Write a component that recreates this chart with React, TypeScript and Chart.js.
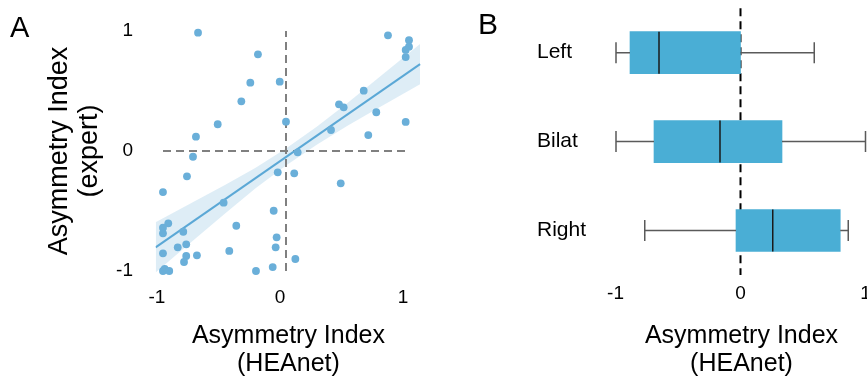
import React, { useEffect, useRef } from 'react';
import { Chart, registerables } from 'chart.js';
Chart.register(...registerables);

const FONT = '"Liberation Sans", Arial, Helvetica, sans-serif';

// ---------- Panel A data ----------
const scatterX = [
  -0.715, -0.228, -0.29, -0.051, -0.363, -0.555, 0.0, -0.732, 0.829, 1.0,
  1.0, 0.973, 0.973, 0.632, 0.431, 0.469, 0.734, 0.366, 0.973, 0.669,
  -0.756, -0.805, -1.0, -0.067, -0.507, -0.1, -0.957, -1.0, -1.0, -0.835,
  -0.404, -0.076, -0.084, -0.88, -0.811, -1.0, -0.461, -0.811, -0.724, -0.829,
  -0.986, -1.0, -0.949, -0.244, -0.108, 0.095, 0.067, 0.445, 0.076,
];
const scatterY = [
  0.986, 0.806, 0.569, 0.578, 0.414, 0.223, 0.244, 0.119, 0.964, 0.923,
  0.869, 0.842, 0.783, 0.503, 0.389, 0.364, 0.323, 0.175, 0.242, 0.133,
  -0.048, -0.211, -0.342, -0.178, -0.431, -0.498, -0.603, -0.639, -0.686, -0.673,
  -0.623, -0.719, -0.803, -0.803, -0.778, -0.853, -0.833, -0.875, -0.869, -0.925,
  -0.983, -1.0, -1.0, -1.0, -0.967, -0.011, -0.186, -0.269, -0.9,
];
const fitX = [-1.06, 1.09];
const fitY = [-0.803, 0.724];
const bandX = [-1.06, -0.75, -0.5, -0.25, 0, 0.25, 0.5, 0.75, 1.09];
const bandUpper = [-0.593, -0.4225, -0.285, -0.1425, 0.02, 0.2025, 0.4, 0.6075, 0.891];
const bandLower = [-1.013, -0.7425, -0.525, -0.3125, -0.12, 0.0525, 0.21, 0.3575, 0.557];
const axisTicks = [-1, 0, 1];

// ---------- Panel B data ----------
const groups = ['Left', 'Bilat', 'Right'];
const whiskerLow = [-0.996, -0.996, -0.766];
const q1 = [-0.884, -0.692, -0.036];
const median = [-0.652, -0.164, 0.258];
const q3 = [0.0, 0.332, 0.798];
const whiskerHigh = [0.59, 1.0, 0.862];

const noPad = (s: any) => {
  s.paddingTop = 0;
  s.paddingBottom = 0;
  s.paddingLeft = 0;
  s.paddingRight = 0;
};

const boxPlugin = {
  id: 'boxExtras',
  beforeDatasetsDraw(chart: any) {
    const { ctx, chartArea, scales } = chart;
    const zx = scales.x.getPixelForValue(0);
    ctx.save();
    ctx.strokeStyle = '#000';
    ctx.lineWidth = 2;
    ctx.setLineDash([8, 5]);
    ctx.beginPath();
    ctx.moveTo(zx, chartArea.top);
    ctx.lineTo(zx, chartArea.bottom);
    ctx.stroke();
    ctx.restore();
  },
  afterDatasetsDraw(chart: any) {
    const { ctx, scales } = chart;
    const x = scales.x;
    const y = scales.y;
    const meta = chart.getDatasetMeta(0);
    ctx.save();
    groups.forEach((g, i) => {
      const cy = y.getPixelForValue(i);
      const h = meta.data[i].height;
      const wl = x.getPixelForValue(whiskerLow[i]);
      const wh = x.getPixelForValue(whiskerHigh[i]);
      const a = x.getPixelForValue(q1[i]);
      const b = x.getPixelForValue(q3[i]);
      const m = x.getPixelForValue(median[i]);
      ctx.strokeStyle = '#5a5a5a';
      ctx.lineWidth = 1.5;
      ctx.beginPath();
      ctx.moveTo(wl, cy);
      ctx.lineTo(a, cy);
      ctx.moveTo(b, cy);
      ctx.lineTo(wh, cy);
      ctx.moveTo(wl, cy - h / 4);
      ctx.lineTo(wl, cy + h / 4);
      ctx.moveTo(wh, cy - h / 4);
      ctx.lineTo(wh, cy + h / 4);
      ctx.stroke();
      ctx.strokeStyle = '#1a1a1a';
      ctx.beginPath();
      ctx.moveTo(m, cy - h / 2);
      ctx.lineTo(m, cy + h / 2);
      ctx.stroke();
    });
    ctx.restore();
  },
};

function PanelA() {
  const ref = useRef<HTMLCanvasElement>(null);
  useEffect(() => {
    const pts = scatterX.map((x, i) => ({ x, y: scatterY[i] }));
    const chart = new Chart(ref.current as HTMLCanvasElement, {
      type: 'scatter',
      data: {
        datasets: [
          {
            type: 'scatter',
            data: pts,
            backgroundColor: '#6aafd9',
            borderColor: '#6aafd9',
            borderWidth: 0,
            pointRadius: 3.9,
            order: 0,
            clip: false,
          } as any,
          {
            type: 'line',
            data: fitX.map((x, i) => ({ x, y: fitY[i] })),
            borderColor: '#5ba8d6',
            borderWidth: 2,
            pointRadius: 0,
            fill: false,
            order: 1,
          },
          {
            type: 'line',
            data: [{ x: -1, y: 0 }, { x: 1, y: 0 }],
            borderColor: '#808080',
            borderWidth: 2,
            borderDash: [8, 5],
            pointRadius: 0,
            fill: false,
            order: 2,
          },
          {
            type: 'line',
            data: [{ x: 0, y: -1 }, { x: 0, y: 1 }],
            borderColor: '#808080',
            borderWidth: 2,
            borderDash: [8, 5],
            pointRadius: 0,
            fill: false,
            order: 2,
          },
          {
            type: 'line',
            data: bandX.map((x, i) => ({ x, y: bandUpper[i] })),
            borderColor: 'transparent',
            backgroundColor: 'rgba(107,174,214,0.22)',
            pointRadius: 0,
            fill: '+1',
            order: 3,
          },
          {
            type: 'line',
            data: bandX.map((x, i) => ({ x, y: bandLower[i] })),
            borderColor: 'transparent',
            pointRadius: 0,
            fill: false,
            order: 3,
          },
        ],
      },
      options: {
        animation: false,
        responsive: false,
        maintainAspectRatio: false,
        layout: { autoPadding: false, padding: { left: 0, right: 18.7, top: 19, bottom: 4 } },
        plugins: { legend: { display: false }, tooltip: { enabled: false } },
        scales: {
          x: {
            type: 'linear',
            min: -1.06,
            max: 1.1,
            afterBuildTicks: (s: any) => {
              s.ticks = axisTicks.map((v) => ({ value: v }));
            },
            afterFit: (s: any) => {
              s.height = 96;
              noPad(s);
            },
            grid: { display: false, drawTicks: false },
            border: { display: false },
            ticks: { padding: 3.6, labelOffset: -6, font: { family: FONT, size: 19 }, color: '#000' },
            title: {
              display: true,
              text: ['Asymmetry Index', '(HEAnet)'],
              font: { family: FONT, size: 25, lineHeight: 1.12 },
              color: '#000',
              padding: { top: 0, bottom: 1 },
            },
          },
          y: {
            type: 'linear',
            min: -1.1,
            max: 1.1,
            afterBuildTicks: (s: any) => {
              s.ticks = axisTicks.map((v) => ({ value: v }));
            },
            afterFit: (s: any) => {
              s.width = 155.6;
              noPad(s);
            },
            grid: { display: false, drawTicks: false },
            border: { display: false },
            ticks: { padding: 22.6, font: { family: FONT, size: 19 }, color: '#000' },
            title: {
              display: true,
              text: ['Asymmetry Index', '(expert)'],
              font: { family: FONT, size: 27, lineHeight: 30 / 27 },
              color: '#000',
              padding: { top: 45, bottom: 0 },
            },
          },
        },
      } as any,
    });
    return () => chart.destroy();
  }, []);
  return (
    <canvas
      ref={ref}
      width={440}
      height={383}
      style={{ position: 'absolute', left: 0, top: 0, width: 440, height: 383, display: 'block' }}
    />
  );
}

function PanelB() {
  const ref = useRef<HTMLCanvasElement>(null);
  useEffect(() => {
    const chart = new Chart(ref.current as HTMLCanvasElement, {
      type: 'bar',
      data: {
        labels: groups,
        datasets: [
          {
            data: q1.map((v, i) => [v, q3[i]]),
            backgroundColor: '#4aaed5',
            borderWidth: 0,
            barThickness: 42,
          } as any,
        ],
      },
      options: {
        indexAxis: 'y',
        animation: false,
        responsive: false,
        maintainAspectRatio: false,
        layout: { autoPadding: false, padding: { left: 57, right: 0, top: 8.2, bottom: 4 } },
        plugins: { legend: { display: false }, tooltip: { enabled: false } },
        scales: {
          x: {
            type: 'linear',
            min: -1.1,
            max: 1.116,
            afterBuildTicks: (s: any) => {
              s.ticks = axisTicks.map((v) => ({ value: v }));
            },
            afterFit: (s: any) => {
              s.height = 383 - 275 - 4;
              noPad(s);
            },
            grid: { display: false, drawTicks: false },
            border: { display: false },
            ticks: { padding: 7.5, font: { family: FONT, size: 19 }, color: '#000' },
            title: {
              display: true,
              text: ['Asymmetry Index', '(HEAnet)'],
              font: { family: FONT, size: 25, lineHeight: 1.12 },
              color: '#000',
              padding: { top: 0, bottom: 1 },
            },
          },
          y: {
            type: 'category',
            afterFit: (s: any) => {
              s.width = 66;
              noPad(s);
            },
            grid: { display: false, drawTicks: false },
            border: { display: false },
            ticks: { padding: 0, crossAlign: 'far', font: { family: FONT, size: 21 }, color: '#000' },
          },
        },
      } as any,
      plugins: [boxPlugin],
    });
    return () => chart.destroy();
  }, []);
  return (
    <canvas
      ref={ref}
      width={400}
      height={383}
      style={{ position: 'absolute', left: 480, top: 0, width: 400, height: 383, display: 'block' }}
    />
  );
}

export default function App() {
  return (
    <div
      style={{
        position: 'fixed',
        left: 0,
        top: 0,
        width: 867,
        height: 383,
        overflow: 'hidden',
        background: '#fff',
        fontFamily: FONT,
      }}
    >
      <PanelA />
      <PanelB />
      <div style={{ position: 'absolute', left: 10, top: 13, fontSize: 29, lineHeight: 1, color: '#000' }}>A</div>
      <div style={{ position: 'absolute', left: 478, top: 9, fontSize: 30, lineHeight: 1, color: '#000' }}>B</div>
    </div>
  );
}
